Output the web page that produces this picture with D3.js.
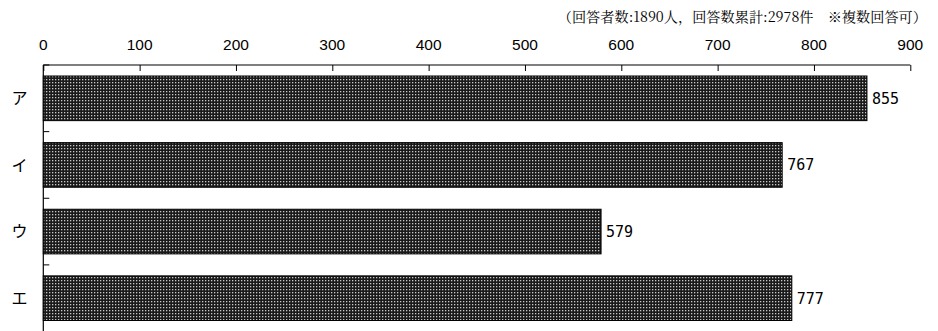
<!DOCTYPE html>
<html><head><meta charset="utf-8">
<script src="https://cdn.jsdelivr.net/npm/d3@7"></script>
<style>body{margin:0;background:#fff}</style>
</head><body>
<svg id="c" width="938" height="331"></svg>
<script>
const categories = ["ア","イ","ウ","エ"];
const values = [855, 767, 579, 777];
const xTicks = [0,100,200,300,400,500,600,700,800,900];
const note = "（回答者数:1890人，回答数累計:2978件　※複数回答可）";

const svg = d3.select("#c");
const m = {left:43.3, right:910.3, top:65, bottom:331.5};
const x = d3.scaleLinear().domain([0,900]).range([m.left, m.right]);
const y = d3.scaleBand().domain(categories).range([m.top, m.bottom]).paddingInner(0.33).paddingOuter(0.165);

const defs = svg.append("defs");
const pat = defs.append("pattern").attr("id","dots").attr("patternUnits","userSpaceOnUse")
  .attr("width",3).attr("height",3);
pat.append("rect").attr("width",3).attr("height",3).attr("fill","#1a1a1a");
pat.append("rect").attr("x",1).attr("y",1).attr("width",1.3).attr("height",1.3).attr("fill","#c8c8c8");

// note
svg.append("text").attr("x",927).attr("y",22).attr("text-anchor","end")
  .attr("font-family","'Noto Serif CJK JP','Liberation Serif','Noto Sans CJK JP',serif")
  .attr("font-size",14.2).attr("fill","#000").text(note);

// top axis
const xa = svg.append("g").attr("transform",`translate(0,${m.top})`)
  .call(d3.axisBottom(x).tickValues(xTicks).tickSize(6).tickFormat(""));
xa.select(".domain").attr("stroke","#000").attr("stroke-width",1.2).attr("d",`M${m.left},0H${m.right}`);
xa.selectAll(".tick line").attr("stroke","#000");
svg.append("g").selectAll("text").data(xTicks).join("text")
  .attr("x",d=>x(d)).attr("y",49.5).attr("text-anchor","middle")
  .attr("font-family","'Liberation Sans',Arial,sans-serif").attr("font-size",15.5).attr("fill","#000")
  .text(d=>d);

// left axis
svg.append("line").attr("x1",m.left).attr("x2",m.left).attr("y1",m.top).attr("y2",m.bottom)
  .attr("stroke","#000").attr("stroke-width",1.2);
const bounds = d3.range(categories.length+1).map(i=>m.top+ (m.bottom-m.top)*i/categories.length);
svg.append("g").selectAll("line").data(bounds).join("line")
  .attr("x1",m.left).attr("x2",m.left+6).attr("y1",d=>d).attr("y2",d=>d).attr("stroke","#000");

svg.append("g").selectAll("text").data(categories).join("text")
  .attr("x",19.5).attr("y",d=>y(d)+y.bandwidth()/2).attr("dy","0.36em").attr("text-anchor","middle")
  .attr("font-family","'Noto Sans CJK JP',sans-serif").attr("font-size",16).attr("fill","#000")
  .text(d=>d);

// bars
svg.append("g").selectAll("rect").data(values).join("rect")
  .attr("x",x(0)).attr("y",(d,i)=>y(categories[i]))
  .attr("width",d=>x(d)-x(0)).attr("height",y.bandwidth())
  .attr("fill","url(#dots)").attr("stroke","#000").attr("stroke-width",1);

svg.append("g").selectAll("text").data(values).join("text")
  .attr("x",d=>x(d)+5).attr("y",(d,i)=>y(categories[i])+y.bandwidth()/2).attr("dy","0.36em")
  .attr("font-family","'DejaVu Sans Mono',monospace").attr("font-size",15).attr("fill","#000")
  .text(d=>d);
</script>
</body></html>
